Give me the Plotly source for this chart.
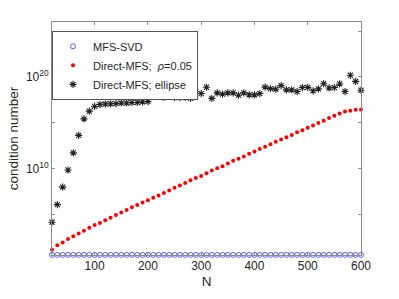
import plotly.graph_objects as go

N = list(range(20, 601, 10))

svd_cond = [3.5] * len(N)

direct_rho = [1.3e1, 4.0e1, 8.1e1, 1.9e2, 3.9e2, 7.4e2, 1.5e3, 3.2e3, 6.3e3, 1.1e4,
              2.1e4, 4.1e4, 7.8e4, 1.5e5, 2.9e5, 5.5e5, 9.8e5, 1.9e6, 3.3e6, 6.0e6,
              1.1e7, 2.0e7, 3.9e7, 7.4e7, 1.3e8, 2.5e8, 4.9e8, 8.7e8, 1.5e9, 3.0e9,
              5.8e9, 1.0e10, 1.7e10, 3.4e10, 6.6e10, 1.1e11, 2.0e11, 4.0e11, 6.9e11, 1.3e12,
              2.3e12, 4.3e12, 7.9e12, 1.4e13, 2.5e13, 4.5e13, 8.7e13, 1.5e14, 2.8e14, 4.8e14,
              9.3e14, 1.6e15, 3.2e15, 5.5e15, 9.8e15, 1.6e16, 2.0e16, 2.5e16, 2.8e16]

direct_ellipse = [1.3e4, 1.1e6, 8.9e7, 6.6e9, 5.0e11, 4.0e13, 2.6e15, 1.8e16, 5.9e16, 9.5e16,
                  1.07e17, 1.15e17, 1.2e17, 1.4e17, 1.4e17, 1.6e17, 1.6e17, 1.9e17, 2.0e17, 1.6e18,
                  8.9e17, 5.6e17, 2.4e18, 5.6e17, 5.4e17, 5.9e17, 4.5e17, 2.5e18, 1.5e18, 7.4e18,
                  4.5e17, 1.8e18, 1.3e18, 1.8e18, 1.8e18, 1.0e18, 1.8e18, 1.1e18, 1.07e18, 1.5e18,
                  7.6e18, 5.2e18, 4.5e18, 1.1e19, 3.8e18, 3.8e18, 2.5e18, 6.8e18, 7.2e18, 3.0e18,
                  4.9e18, 1.8e19, 6.2e18, 6.8e18, 1.7e19, 2.5e18, 1.5e20, 3.2e19, 3.5e18]

x_ticks = [100, 200, 300, 400, 500, 600]
y_major_vals = [1e10, 1e20]
y_major_text = ["10<sup>10</sup>", "10<sup>20</sup>"]
y_minor_vals = [1e5, 1e15, 1e25]

FONT = "Liberation Sans, Arial, sans-serif"
TXT = "#262626"
AX = "#8c8c8c"

fig = go.Figure()
fig.add_trace(go.Scatter(
    x=N, y=svd_cond, mode="markers", name="MFS-SVD", cliponaxis=False,
    marker=dict(symbol="circle-open", size=5, color="#3333ff", line=dict(width=0.8, color="#3333ff"))))
fig.add_trace(go.Scatter(
    x=N, y=direct_rho, mode="markers", name="Direct-MFS;  <i>ρ</i>=0.05", cliponaxis=False,
    marker=dict(symbol="circle", size=4, color="#ff0000", line=dict(width=0))))
fig.add_trace(go.Scatter(
    x=N, y=direct_ellipse, mode="markers", name="Direct-MFS; ellipse", cliponaxis=False,
    marker=dict(symbol="asterisk-open", size=6, color="#222222", line=dict(width=1.1, color="#222222"))))

fig.update_layout(
    width=399, height=299,
    margin=dict(l=52, r=38, t=22, b=38),
    paper_bgcolor="white", plot_bgcolor="white",
    font=dict(family=FONT, color=TXT, size=12),
    showlegend=True,
    legend=dict(x=0.0, y=0.962, xanchor="left", yanchor="top",
                bgcolor="white", bordercolor="#555555", borderwidth=1,
                font=dict(size=11, color=TXT, family=FONT),
                itemwidth=30, tracegroupgap=0),
    xaxis=dict(range=[20, 600], tickvals=x_ticks, ticks="inside", ticklen=3,
               tickcolor=AX, showline=True, linecolor=AX, linewidth=1, mirror="ticks",
               showgrid=False, zeroline=False,
               tickfont=dict(size=12, color=TXT),
               title=dict(text="N", font=dict(size=13.5, color=TXT), standoff=4)),
    yaxis=dict(type="log", range=[0.53, 26], tickvals=y_major_vals, ticktext=y_major_text,
               ticks="inside", ticklen=3, tickcolor=AX, showline=True, linecolor=AX,
               linewidth=1, mirror="ticks", showgrid=False, zeroline=False,
               minor=dict(tickvals=y_minor_vals, ticks="inside", ticklen=3, tickcolor=AX,
                          showgrid=False),
               tickfont=dict(size=12, color=TXT),
               title=dict(text="condition number", font=dict(size=13.5, color=TXT), standoff=4)),
)

fig.write_html("out.html", config={"displayModeBar": False},
               post_script="document.body.style.margin='0';document.body.style.overflow='hidden';")
